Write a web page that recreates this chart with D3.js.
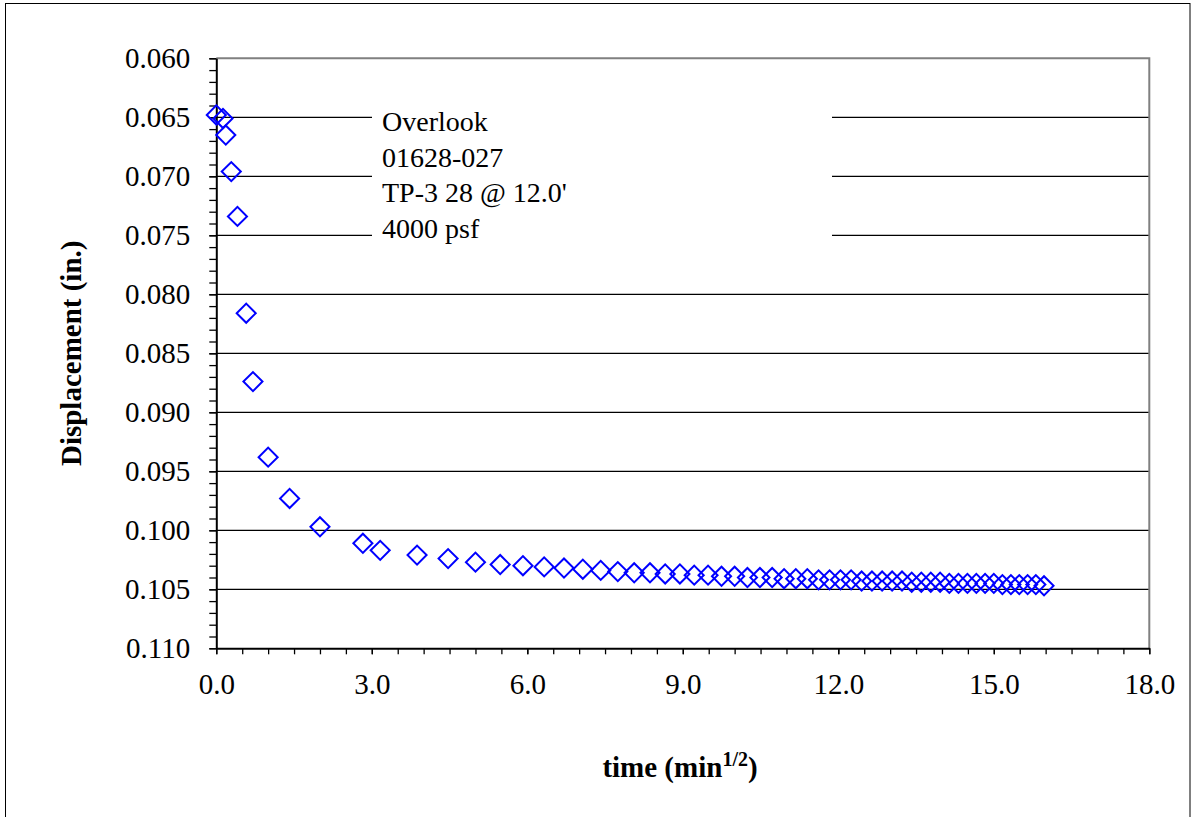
<!DOCTYPE html>
<html>
<head>
<meta charset="utf-8">
<script src="https://cdn.jsdelivr.net/npm/d3@7"></script>
<style>
  html, body { margin: 0; padding: 0; background: #fff; }
  svg { display: block; }
  text { font-family: "Liberation Serif", "Times New Roman", serif; }
</style>
</head>
<body>
<svg id="chart" width="1192" height="817"></svg>
<script>
// sqrt(time), min^1/2
const xValues = [0, 0.129, 0.183, 0.289, 0.408, 0.577, 0.707, 1, 1.414, 2, 2.828,
  3.162, 3.873, 4.472, 5, 5.477, 5.916, 6.325, 6.708, 7.071, 7.416, 7.746,
  8.062, 8.367, 8.660, 8.944, 9.220, 9.487, 9.747, 10, 10.247, 10.488, 10.724,
  10.954, 11.180, 11.402, 11.619, 11.832, 12.042, 12.247, 12.450, 12.649, 12.845,
  13.038, 13.229, 13.416, 13.601, 13.784, 13.964, 14.142, 14.318, 14.491, 14.663,
  14.832, 15, 15.166, 15.330, 15.492, 15.652, 15.811, 15.969];
// displacement, in.
const displacement = [0.0648, 0.0651, 0.0665, 0.0696, 0.0734, 0.0816, 0.0874, 0.0938, 0.0973, 0.0997, 0.1011,
  0.1017, 0.1021, 0.1024, 0.1027, 0.1029, 0.1030, 0.1031, 0.1032, 0.1033, 0.1034, 0.1035,
  0.1036, 0.1036, 0.1037, 0.1037, 0.1038, 0.1038, 0.1039, 0.1039, 0.1040, 0.1040, 0.1040,
  0.1041, 0.1041, 0.1041, 0.1042, 0.1042, 0.1042, 0.1042, 0.1043, 0.1043, 0.1043,
  0.1043, 0.1043, 0.1044, 0.1044, 0.1044, 0.1044, 0.1045, 0.1045, 0.1045, 0.1045,
  0.1045, 0.1045, 0.1046, 0.1046, 0.1046, 0.1046, 0.1046, 0.1047];
const xTickValues = [0, 3, 6, 9, 12, 15, 18];
const xMinorTickValues = [0,0.5,1,1.5,2,2.5,3,3.5,4,4.5,5,5.5,6,6.5,7,7.5,8,8.5,9,9.5,10,10.5,11,11.5,12,12.5,13,13.5,14,14.5,15,15.5,16,16.5,17,17.5,18];
const yTickValues = [0.060, 0.065, 0.070, 0.075, 0.080, 0.085, 0.090, 0.095, 0.100, 0.105, 0.110];
const yMinorTickValues = [0.060,0.061,0.062,0.063,0.064,0.065,0.066,0.067,0.068,0.069,0.070,0.071,0.072,0.073,0.074,0.075,0.076,0.077,0.078,0.079,0.080,0.081,0.082,0.083,0.084,0.085,0.086,0.087,0.088,0.089,0.090,0.091,0.092,0.093,0.094,0.095,0.096,0.097,0.098,0.099,0.100,0.101,0.102,0.103,0.104,0.105,0.106,0.107,0.108,0.109,0.110];
const gridValues = [0.065, 0.070, 0.075, 0.080, 0.085, 0.090, 0.095, 0.100, 0.105];
const annotationLines = ["Overlook", "01628-027", "TP-3 28 @ 12.0'", "4000 psf"];

const svg = d3.select("#chart");
const L = 216.3, R = 1149.3, T = 58.3, B = 648.3;
const FONT = '"Liberation Serif", "Times New Roman", serif';

// outer border
svg.append("rect").attr("x", 5.5).attr("y", 3.5).attr("width", 1184.5).attr("height", 830)
  .attr("fill", "#fff").attr("stroke", "#000").attr("stroke-width", 1);

const x = d3.scaleLinear().domain([0, 18]).range([L, R]);
const y = d3.scaleLinear().domain([0.060, 0.110]).range([T, B]);

// gridlines
svg.append("g").selectAll("line").data(gridValues).join("line")
  .attr("x1", L).attr("x2", R).attr("y1", d => y(d)).attr("y2", d => y(d))
  .attr("stroke", "#000").attr("stroke-width", 1.2);

// annotation box (white, no border)
svg.append("rect").attr("x", 372).attr("y", 96).attr("width", 460).attr("height", 152).attr("fill", "#fff");
const ann = svg.append("text").attr("x", 382).attr("y", 131).style("font-family", FONT)
  .attr("font-size", 28).attr("fill", "#000");
annotationLines.forEach((s, i) => {
  ann.append("tspan").attr("x", 382).attr("y", 131 + i * 35.5).text(s);
});

// top/right border (gray)
svg.append("path").attr("d", `M${L},${T}H${R}V${B}`).attr("fill", "none")
  .attr("stroke", "#808080").attr("stroke-width", 2);

// minor ticks
const yMinor = svg.append("g").attr("transform", `translate(${L},0)`)
  .call(d3.axisLeft(y).tickValues(yMinorTickValues).tickSize(7).tickFormat(""));
yMinor.select(".domain").remove();
yMinor.selectAll("line").attr("stroke", "#000").attr("stroke-width", 1.3);

const xMinor = svg.append("g").attr("transform", `translate(0,${B})`)
  .call(d3.axisBottom(x).tickValues(xMinorTickValues).tickSize(6).tickFormat(""));
xMinor.select(".domain").remove();
xMinor.selectAll("line").attr("stroke", "#000").attr("stroke-width", 1.3);

// major axes
const yAxis = svg.append("g").attr("transform", `translate(${L},0)`)
  .call(d3.axisLeft(y).tickValues(yTickValues).tickSize(7).tickSizeOuter(0).tickPadding(19).tickFormat(d3.format(".3f")));
yAxis.select(".domain").attr("stroke", "#000").attr("stroke-width", 2);
yAxis.selectAll("line").attr("stroke", "#000").attr("stroke-width", 1.3);
yAxis.selectAll("text").attr("font-size", 29).style("font-family", FONT).attr("fill", "#000");

const xAxis = svg.append("g").attr("transform", `translate(0,${B})`)
  .call(d3.axisBottom(x).tickValues(xTickValues).tickSize(6).tickSizeOuter(0).tickPadding(19).tickFormat(d3.format(".1f")));
xAxis.select(".domain").attr("stroke", "#000").attr("stroke-width", 2);
xAxis.selectAll("line").attr("stroke", "#000").attr("stroke-width", 1.3);
xAxis.selectAll("text").attr("font-size", 29).style("font-family", FONT).attr("fill", "#000");

// points
const pts = xValues.map((v, i) => ({ x: v, y: displacement[i] }));
const sym = d3.symbol().type(d3.symbolSquare).size(182);
svg.append("g").selectAll("path").data(pts).join("path")
  .attr("d", sym)
  .attr("transform", d => `translate(${x(d.x)},${y(d.y)}) rotate(45)`)
  .attr("fill", "none").attr("stroke", "#0000ff").attr("stroke-width", 2);

// axis titles
svg.append("text").attr("transform", `translate(81,${(T + B) / 2}) rotate(-90)`)
  .attr("text-anchor", "middle").attr("font-size", 29).attr("font-weight", "bold").style("font-family", FONT)
  .text("Displacement (in.)");

const xt = svg.append("text").attr("x", 680).attr("y", 777)
  .attr("text-anchor", "middle").attr("font-size", 29).attr("font-weight", "bold").style("font-family", FONT);
xt.append("tspan").text("time (min");
xt.append("tspan").attr("font-size", 20).attr("dy", -11).text("1/2");
xt.append("tspan").attr("dy", 11).text(")");
</script>
</body>
</html>
